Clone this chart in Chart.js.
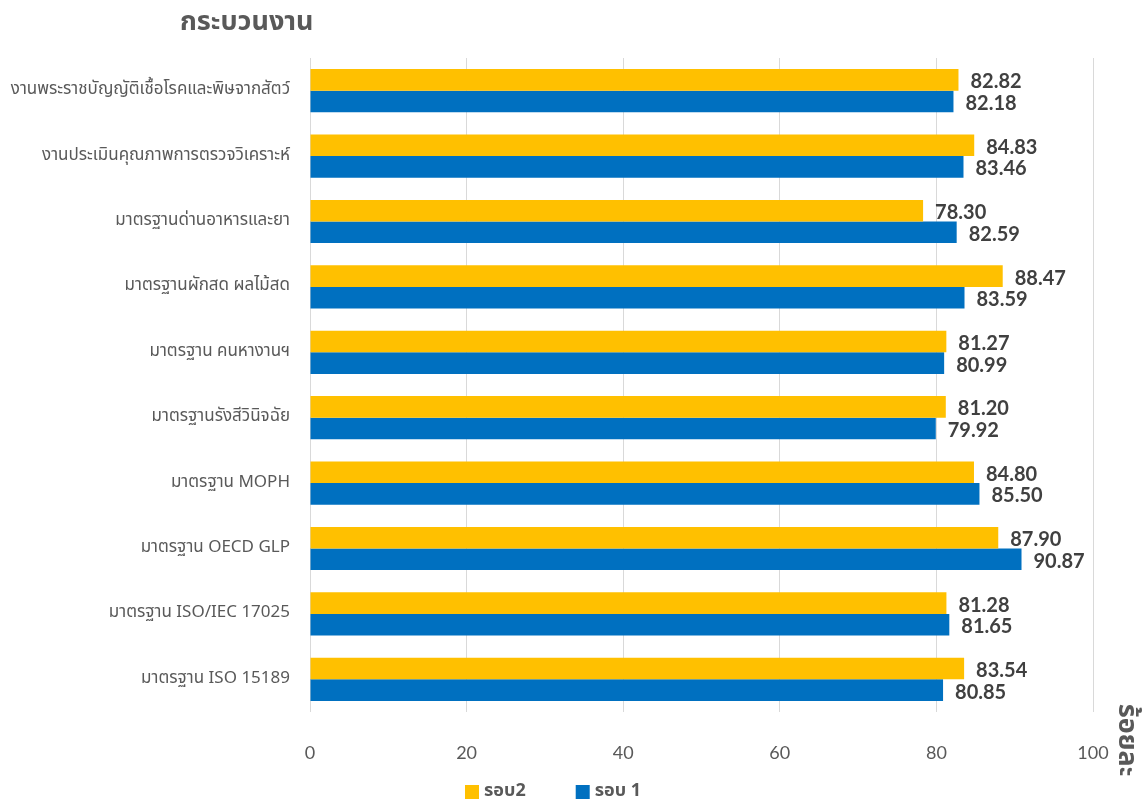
<!DOCTYPE html>
<html>
<head>
<meta charset="utf-8">
<script src="https://cdn.jsdelivr.net/npm/chart.js@4.4.1/dist/chart.umd.min.js"></script>
<style>
  html, body { margin: 0; padding: 0; background: #fff; }
  #wrap { width: 1146px; height: 801px; position: relative; }
</style>
</head>
<body>
<div id="wrap"><canvas id="procChart"></canvas></div>
<script>
// Data
const categories = [
  "งานพระราชบัญญัติเชื้อโรคและพิษจากสัตว์",
  "งานประเมินคุณภาพการตรวจวิเคราะห์",
  "มาตรฐานด่านอาหารและยา",
  "มาตรฐานผักสด ผลไม้สด",
  "มาตรฐาน คนหางานฯ",
  "มาตรฐานรังสีวินิจฉัย",
  "มาตรฐาน MOPH",
  "มาตรฐาน OECD GLP",
  "มาตรฐาน ISO/IEC 17025",
  "มาตรฐาน ISO 15189"
];
const round2 = [82.82, 84.83, 78.30, 88.47, 81.27, 81.20, 84.80, 87.90, 81.28, 83.54];
const round1 = [82.18, 83.46, 82.59, 83.59, 80.99, 79.92, 85.50, 90.87, 81.65, 80.85];
const xTicks = [0, 20, 40, 60, 80, 100];

const thaiFont = "Tahoma, 'Noto Sans Thai', 'Leelawadee UI', sans-serif";
const numFont = "Lato, 'Open Sans', sans-serif";
const grey = "#595959";

// value labels, title, axis caption and legend
const extrasPlugin = {
  id: "extras",
  afterDatasetsDraw(chart) {
    const ctx = chart.ctx;
    ctx.save();
    ctx.font = "bold 20px " + numFont;
    ctx.fillStyle = "#404040";
    ctx.textAlign = "left";
    ctx.textBaseline = "middle";
    chart.data.datasets.forEach((ds, i) => {
      chart.getDatasetMeta(i).data.forEach((bar, j) => {
        ctx.fillText(ds.data[j].toFixed(2), bar.x + 12, bar.y + 2);
      });
    });
    ctx.restore();
  },
  afterDraw(chart) {
    const ctx = chart.ctx;
    ctx.save();
    ctx.fillStyle = grey;
    ctx.font = "bold 27px " + thaiFont;
    ctx.textBaseline = "middle";
    ctx.textAlign = "left";
    ctx.fillText("กระบวนงาน", 180, 25);

    // legend
    ctx.font = "bold 18px " + thaiFont;
    let lx = 465;
    chart.data.datasets.forEach((ds) => {
      ctx.fillStyle = ds.backgroundColor;
      ctx.fillRect(lx, 785, 14, 14);
      ctx.fillStyle = grey;
      ctx.fillText(ds.label, lx + 19, 792);
      lx += 19 + ctx.measureText(ds.label).width + 50;
    });

    ctx.translate(1124, 740);
    ctx.rotate(Math.PI / 2);
    ctx.textAlign = "center";
    ctx.font = "bold 27px " + thaiFont;
    ctx.fillText("ร้อยละ", 0, 0);
    ctx.restore();
  }
};

let ctx = document.getElementById("procChart").getContext("2d");
let procChart = new Chart(ctx, {
  type: "bar",
  data: {
    labels: categories,
    datasets: [
      { label: "รอบ2", data: round2, backgroundColor: "#FFC000", categoryPercentage: 0.66, barPercentage: 1 },
      { label: "รอบ 1", data: round1, backgroundColor: "#0070C0", categoryPercentage: 0.66, barPercentage: 1 }
    ]
  },
  options: {
    indexAxis: "y",
    responsive: true,
    maintainAspectRatio: false,
    animation: false,
    layout: { padding: { top: 58, right: 53, left: 0, bottom: 37 } },
    scales: {
      x: {
        min: 0,
        max: 100,
        afterBuildTicks: (scale) => { scale.ticks = xTicks.map(v => ({ value: v })); },
        afterFit: (scale) => { scale.height = 52; },
        grid: { color: "#d9d9d9", drawTicks: false },
        border: { display: false },
        ticks: { color: grey, padding: 30, font: { family: numFont, size: 18 } }
      },
      y: {
        afterFit: (scale) => { scale.width = 310; },
        grid: { display: false },
        border: { display: false },
        ticks: { color: grey, padding: 12, font: { family: thaiFont, size: 17 } }
      }
    },
    plugins: {
      legend: { display: false },
      tooltip: { enabled: false }
    }
  },
  plugins: [extrasPlugin]
});
</script>
</body>
</html>
